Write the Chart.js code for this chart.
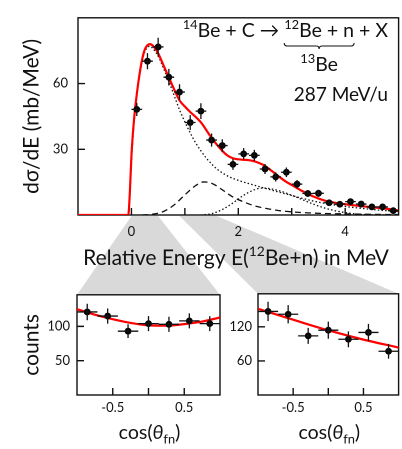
<!DOCTYPE html>
<html><head><meta charset="utf-8">
<script src="https://cdn.jsdelivr.net/npm/chart.js@4/dist/chart.umd.min.js"></script>
<style>
html,body{margin:0;padding:0;background:#fff;}
#wrap{position:relative;width:402px;height:449px;overflow:hidden;background:#fff;}
#bg{position:absolute;left:0;top:0;}
.box{position:absolute;}
</style></head><body>
<div id="wrap">
<canvas id="bg" width="402" height="449"></canvas>
<div class="box" style="left:0;top:0;width:402px;height:272px"><canvas id="cMain" width="402" height="272"></canvas></div>
<div class="box" style="left:0;top:280px;width:230px;height:169px"><canvas id="cL" width="230" height="169"></canvas></div>
<div class="box" style="left:230px;top:280px;width:172px;height:169px"><canvas id="cR" width="172" height="169"></canvas></div>
</div>
<script>
const FONT = 'Lato, "DejaVu Sans", sans-serif';

// ---- main spectrum: 14Be + C -> 12Be + n + X ----
const energyMeV = [0.1,0.3,0.5,0.7,0.9,1.1,1.3,1.5,1.7,1.9,2.1,2.3,2.5,2.7,2.9,3.1,3.3,3.5,3.7,3.9,4.1,4.3,4.5,4.7,4.9];
const crossSection = [48.2,70.2,76.7,62.9,56.1,42.2,47.4,34.2,31.7,23.1,27.9,27.2,21.0,17.4,19.5,14.1,9.8,9.9,5.6,4.9,6.1,5.0,3.7,3.7,2.0];
const crossSectionErr = [3.0,3.7,4.2,3.8,3.6,3.4,3.6,3.0,2.9,2.5,2.6,2.5,2.3,2.1,2.2,1.9,1.6,1.6,1.3,1.2,1.3,1.2,1.0,1.0,0.8];
const energyHalfBin = 0.1;

const fitTotalE = [-1.0,-0.06,-0.03,0.0,0.05,0.1,0.15,0.2,0.25,0.3,0.35,0.4,0.45,0.5,0.6,0.7,0.8,0.9,1.0,1.1,1.2,1.3,1.4,1.5,1.6,1.7,1.8,1.9,2.0,2.1,2.2,2.3,2.4,2.5,2.6,2.7,2.8,2.9,3.0,3.2,3.4,3.6,3.8,4.0,4.2,4.4,4.6,4.8,5.0];
const fitTotalY = [0,0,10,27,44,55,64,71,75.5,77.5,78,77.3,75.8,73.8,68.3,62.8,57.3,52.3,49.5,47.0,44.8,42.3,38.8,35.2,32.1,29.3,27.1,25.9,25.4,25.2,25.0,24.5,23.6,22.4,20.6,18.7,16.8,15.1,13.7,10.9,8.5,6.7,5.6,4.9,4.3,3.8,3.3,2.8,2.0];

const comp1E = [-0.05,0,0.05,0.1,0.15,0.2,0.25,0.3,0.35,0.4,0.5,0.6,0.7,0.8,0.9,1.0,1.1,1.2,1.3,1.4,1.5,1.6,1.8,2.0,2.2,2.4,2.6,2.8,3.0,3.2,3.4,3.6,3.8,4.0,4.2,4.4,4.6,4.8,5.0];
const comp1Y = [0,24,42,54,63,70,74.5,76.5,77,76,72.5,67,61,54.5,48,42.5,37.5,33,29.3,26,23.3,21,17.8,15.8,14.3,12.9,11.5,10.2,8.9,7.6,6.4,5.4,4.6,3.9,3.3,2.8,2.3,1.9,1.6];

const comp2E = [0.2,0.4,0.6,0.8,1.0,1.2,1.35,1.5,1.7,1.9,2.1,2.3,2.5,2.8,3.2,3.6,4.0,4.5,5.0];
const comp2Y = [0,0.4,1.6,4.6,9.2,13.4,15.1,14.5,11.5,8.2,6.0,4.2,3.1,1.9,1.1,0.7,0.5,0.3,0.2];

const comp3E = [1.3,1.5,1.7,1.9,2.1,2.3,2.45,2.6,2.8,3.0,3.2,3.4,3.6,3.8,4.0,4.2,4.5,5.0];
const comp3Y = [0,0.6,2.5,5.5,9,11.5,12.3,12,10.8,9,7,5,3.3,2,1.1,0.5,0.1,0];

const mainXTicks = [0,1,2,3,4];
const mainXTickLabels = ['0','','2','','4'];
const mainYTicks = [30,60];
const mainYTickLabels = ['30','60'];

// energy windows shown in the lower panels (shaded wedges)
const windowLow = [0,0.5];
const windowHigh = [0.9,1.6];

// ---- angular distributions ----
const cosBins = [-0.857,-0.571,-0.286,0,0.286,0.571,0.857];
const cosHalfBin = 0.143;
const countsLow = [121,115,93,104,103,108,104];
const countsLowErr = [12,11,10,11,11,11,11];
const countsHigh = [147,142,104,114,98,110,77];
const countsHighErr = [17,16,14,15,14,15,13];
const fitLowX = [-1,-0.75,-0.5,-0.25,0,0.25,0.5,0.75,1];
const fitLowY = [125,117,110.5,105,101.5,101,103.3,107,113];
const fitHighX = [-1,-0.5,0,0.5,1];
const fitHighY = [151.7,132.4,113.7,97.4,83.4];
const cosTicks = [-0.5,0,0.5];
const cosTickLabels = ['-0.5','','0.5'];
const lowYTicks = [50,100];
const lowYTickLabels = ['50','100'];
const highYTicks = [60,120];
const highYTickLabels = ['60','120'];

const xy = (xs, ys) => xs.map((v, i) => ({x: v, y: ys[i]}));

function fontStr(size, style) { return (style || '') + ' ' + size + 'px ' + FONT; }

// rich text: parts = [[text, kind]], kind '' | 'sup' | 'sub' | 'it'
function richLayout(ctx, parts, size) {
  let w = 0; const segs = [];
  parts.forEach(([t, k]) => {
    let sz = size, dy = 0, st = '';
    if (k === 'sup') { sz = size * 0.66; dy = -size * 0.42; }
    if (k === 'sub') { sz = size * 0.66; dy = size * 0.22; }
    if (k === 'it') { st = 'italic'; }
    ctx.font = fontStr(sz, st);
    const tw = ctx.measureText(t).width;
    segs.push({t, sz, dy, st, x: w, w: tw});
    w += tw;
  });
  return {segs, w};
}
function drawRich(ctx, parts, x, y, size, align, color) {
  const L = richLayout(ctx, parts, size);
  let x0 = x;
  if (align === 'center') x0 = x - L.w / 2;
  if (align === 'right') x0 = x - L.w;
  ctx.save();
  ctx.fillStyle = color || '#111';
  ctx.textBaseline = 'alphabetic'; ctx.textAlign = 'left';
  L.segs.forEach(s => { ctx.font = fontStr(s.sz, s.st); ctx.fillText(s.t, x0 + s.x, y + s.dy); });
  ctx.restore();
  return L.segs.map(s => ({x0: x0 + s.x, x1: x0 + s.x + s.w}));
}

const deco = {
  id: 'deco',
  beforeDatasetsDraw(chart, args, o) {
    const {ctx, chartArea: a, scales: {x, y}} = chart;
    ctx.save();
    ctx.strokeStyle = '#111'; ctx.lineWidth = 1.4;
    ctx.strokeRect(a.left, a.top, a.right - a.left, a.bottom - a.top);
    ctx.beginPath();
    (o.xTicks || []).forEach(v => { const p = x.getPixelForValue(v); ctx.moveTo(p, a.bottom); ctx.lineTo(p, a.bottom - o.tickLen); });
    (o.yTicks || []).forEach(v => { const p = y.getPixelForValue(v); ctx.moveTo(a.left, p); ctx.lineTo(a.left + o.tickLen, p); });
    ctx.stroke();
    ctx.restore();
  },
  afterDatasetsDraw(chart, args, o) {
    if (!o.yErr) return;
    const {ctx, scales: {x, y}} = chart;
    const pts = chart.data.datasets[0].data;
    ctx.save();
    ctx.strokeStyle = '#111'; ctx.lineWidth = 1.3;
    ctx.beginPath();
    pts.forEach((p, i) => {
      const px = x.getPixelForValue(p.x), py = y.getPixelForValue(p.y);
      ctx.moveTo(x.getPixelForValue(p.x - o.xErr), py); ctx.lineTo(x.getPixelForValue(p.x + o.xErr), py);
      ctx.moveTo(px, y.getPixelForValue(p.y - o.yErr[i])); ctx.lineTo(px, y.getPixelForValue(p.y + o.yErr[i]));
    });
    ctx.stroke();
    ctx.restore();
  },
  afterDraw(chart, args, o) { if (o.extra) o.extra(chart); }
};
Chart.register(deco);

function tickAxis(values, labels, pad, extra) {
  return Object.assign({
    afterBuildTicks: s => { s.ticks = values.map(v => ({value: v})); },
    ticks: {
      autoSkip: false, maxRotation: 0, color: '#111', padding: pad,
      font: {family: FONT, size: 13},
      callback: v => { const i = values.indexOf(v); return i >= 0 ? labels[i] : ''; }
    },
    grid: {display: false, drawTicks: false},
    border: {display: false}
  }, extra);
}

function pointsDS(xs, ys) {
  return {type: 'scatter', data: xy(xs, ys), pointRadius: 3.4, pointHoverRadius: 3.4,
    backgroundColor: '#000', borderWidth: 0, order: 0};
}
function curveDS(xs, ys, color, width, dash, order) {
  return {type: 'line', data: xy(xs, ys), borderColor: color, borderWidth: width, borderDash: dash,
    pointRadius: 0, fill: false, cubicInterpolationMode: 'monotone', order: order};
}

const common = {
  responsive: false, animation: false, devicePixelRatio: 2,
  events: [],
  plugins: {legend: {display: false}, tooltip: {enabled: false}}
};

// ---------- main chart ----------
const mainChart = new Chart(document.getElementById('cMain'), {
  type: 'scatter',
  data: {datasets: [
    pointsDS(energyMeV, crossSection),
    curveDS(fitTotalE, fitTotalY, '#ff0000', 2.2, [], 1),
    curveDS(comp1E, comp1Y, '#111', 1.3, [1.5, 2.2], 2),
    curveDS(comp2E, comp2Y, '#111', 1.3, [6, 4], 3),
    curveDS(comp3E, comp3Y, '#111', 1.3, [1.5, 2.2], 4)
  ]},
  options: Object.assign({}, common, {
    layout: {padding: {top: 6, right: 3, left: 0, bottom: 0}},
    scales: {
      x: tickAxis(mainXTicks, mainXTickLabels, 9, {type: 'linear', min: -1, max: 5,
        afterFit: s => { s.height = 57; }}),
      y: tickAxis(mainYTicks, mainYTickLabels, 10, {type: 'linear', min: 0, max: 90,
        afterFit: s => { s.width = 78; },
        title: {display: true, text: 'dσ/dE (mb/MeV)', color: '#111', font: {family: FONT, size: 21}, padding: {top: 19, bottom: 0}}})
    },
    plugins: Object.assign({}, common.plugins, {
      deco: {tickLen: 7, xTicks: mainXTicks, yTicks: mainYTicks, xErr: energyHalfBin, yErr: crossSectionErr,
        extra: chart => {
          const ctx = chart.ctx;
          const segs = drawRich(ctx, [['14', 'sup'], ['Be + C → ', ''], ['12', 'sup'], ['Be + n', ''], [' + X', '']], 388, 37, 19.5, 'right');
          const bx0 = segs[2].x0, bx1 = segs[3].x1, by = 46, mid = (bx0 + bx1) / 2;
          ctx.save();
          ctx.strokeStyle = '#111'; ctx.lineWidth = 1.1;
          ctx.beginPath();
          ctx.moveTo(bx0, by - 3); ctx.quadraticCurveTo(bx0, by, bx0 + 3, by);
          ctx.lineTo(mid - 3, by); ctx.quadraticCurveTo(mid, by, mid, by + 3);
          ctx.quadraticCurveTo(mid, by, mid + 3, by);
          ctx.lineTo(bx1 - 3, by); ctx.quadraticCurveTo(bx1, by, bx1, by - 3);
          ctx.stroke();
          ctx.restore();
          drawRich(ctx, [['13', 'sup'], ['Be', '']], mid, 71, 19.5, 'center');
          drawRich(ctx, [['287 MeV/u', '']], 388, 101, 19, 'right');
          drawRich(ctx, [['Relative Energy E(', ''], ['12', 'sup'], ['Be+n) in MeV', '']], 236, 265, 21, 'center');
        }}
    })
  })
});

// ---------- lower panels ----------
function anglePanel(id, counts, errs, fx, fy, yMax, yTicks, yLabels, yWidth, padRight, yPad, yTitle) {
  const yAxis = tickAxis(yTicks, yLabels, yPad, {type: 'linear', min: 0, max: yMax,
    afterFit: s => { s.width = yWidth; }});
  if (yTitle) yAxis.title = {display: true, text: yTitle, color: '#111', font: {family: FONT, size: 21}, padding: {top: 19, bottom: 0}};
  const xAxis = tickAxis(cosTicks, cosTickLabels, 5, {type: 'linear', min: -1, max: 1,
    afterFit: s => { s.height = 54; }});
  return new Chart(document.getElementById(id), {
    type: 'scatter',
    data: {datasets: [pointsDS(cosBins, counts), curveDS(fx, fy, '#ff0000', 2.2, [], 1)]},
    options: Object.assign({}, common, {
      layout: {padding: {top: 12, right: padRight, left: 0, bottom: 0}},
      scales: {x: xAxis, y: yAxis},
      plugins: Object.assign({}, common.plugins, {
        deco: {tickLen: 7, xTicks: cosTicks, yTicks: yTicks, xErr: cosHalfBin, yErr: errs,
          extra: chart => {
            const a = chart.chartArea;
            drawRich(chart.ctx, [['cos(', ''], ['θ', 'it'], ['fn', 'sub'], [')', '']], (a.left + a.right) / 2 + 1, 159, 19.5, 'center');
          }}
      })
    })
  });
}

const lowChart = anglePanel('cL', countsLow, countsLowErr, fitLowX, fitLowY, 146, lowYTicks, lowYTickLabels, 77, 10, 7, 'counts');
const highChart = anglePanel('cR', countsHigh, countsHighErr, fitHighX, fitHighY, 178, highYTicks, highYTickLabels, 28, 2, 6, null);

// ---------- shaded wedges linking energy windows to panels ----------
(function () {
  const c = document.getElementById('bg'), ctx = c.getContext('2d');
  const mx = mainChart.scales.x, top = mainChart.chartArea.bottom + 1;
  const wedge = (range, chart, offX, offY) => {
    const a = chart.chartArea;
    ctx.beginPath();
    ctx.moveTo(mx.getPixelForValue(range[0]), top);
    ctx.lineTo(mx.getPixelForValue(range[1]), top);
    ctx.lineTo(offX + a.right, offY + a.top);
    ctx.lineTo(offX + a.left, offY + a.top);
    ctx.closePath();
    ctx.fill();
  };
  ctx.fillStyle = '#d9d9d9';
  wedge(windowLow, lowChart, 0, 280);
  wedge(windowHigh, highChart, 230, 280);
})();
</script>
</body></html>
